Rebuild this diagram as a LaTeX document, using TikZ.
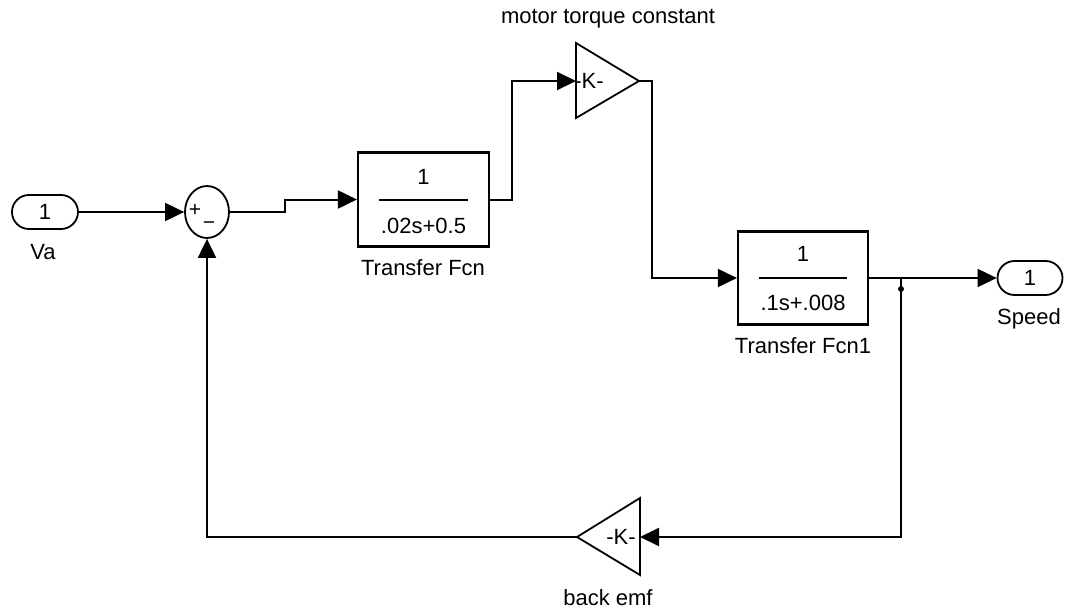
\documentclass[tikz,border=0pt]{standalone}
\usepackage{fontspec}
\setmainfont{Liberation Sans}
\usetikzlibrary{arrows.meta,shapes.geometric,shapes.misc,calc}
\begin{document}
\begin{tikzpicture}[x=1pt,y=-1pt,
  wire/.style={line width=2pt},
  arr/.style={wire,-{Triangle[length=19pt,width=18pt]}},
  blk/.style={draw,line width=2.2pt,rectangle,inner sep=0,minimum width=131pt,minimum height=94pt},
  port/.style={draw,line width=1.8pt,rounded rectangle,inner sep=0,minimum width=66pt,minimum height=34pt,font=\fontsize{22}{26}\selectfont},
  sumblk/.style={draw,line width=1.8pt,ellipse,inner sep=0,minimum width=44pt,minimum height=52pt},
  gainblk/.style={draw,line width=1.8pt,line join=miter},
  lbl/.style={font=\fontsize{22}{26}\selectfont,inner sep=0},
  sgn/.style={font=\fontsize{21}{22}\selectfont,inner sep=0},
  ]
\useasboundingbox (0,0) rectangle (1067,610);

% blocks
\node[port] (va) at (45,212) {1};
\node[lbl] (valbl) at (43,252) {Va};
\node[sumblk] (sum) at (207,212) {};
\node[sgn] (plus) at (195,210) {+};
\node[sgn] (minus) at (209,226) {−};

\node[blk] (tf1) at (423.5,199.5) {};
\draw[line width=2pt] ($(tf1)+(-44.5,0)$) -- ($(tf1)+(44.5,0)$);
\node[lbl] (tf1n) at ($(tf1)+(0,-23)$) {1};
\node[lbl] (tf1d) at ($(tf1)+(0,26)$) {.02s+0.5};
\node[lbl] (tf1lbl) at (423,268) {Transfer Fcn};

\draw[gainblk] (576,43) -- (639,81) -- (576,118) -- cycle;
\coordinate (g1in) at (576,81);
\coordinate (g1out) at (639,81);
\node[lbl] (g1k) at (589,81) {-K-};
\node[lbl] (g1lbl) at (608,19) {motor torque constant};

\node[blk,minimum width=130pt,minimum height=93pt] (tf2) at (803,278) {};
\draw[line width=2pt] ($(tf2)+(-44,0)$) -- ($(tf2)+(44,0)$);
\node[lbl] (tf2n) at ($(tf2)+(0,-24)$) {1};
\node[lbl] (tf2d) at ($(tf2)+(0,25)$) {.1s+.008};
\node[lbl] (tf2lbl) at (803,346) {Transfer Fcn1};

\node[port,minimum width=65pt] (speed) at (1030,278) {1};
\node[lbl] (speedlbl) at (1029,319) {Speed};

\draw[gainblk] (640,498) -- (577,537) -- (640,575) -- cycle;
\coordinate (g2in) at (640,537);
\coordinate (g2out) at (577,537);
\node[lbl] (g2k) at (621,537) {-K-};
\node[lbl] (g2lbl) at (608,598) {back emf};

\coordinate (br) at (901,278);
\fill (901,289) circle (3pt);

% wires
\draw[arr] (va.east) -- (sum.west);
\draw[arr] (sum.east) -- ++(55,0) |- (tf1.west);
\draw[arr] (tf1.east) -- ++(22,0) |- (g1in);
\draw[arr] (g1out) -- ++(13,0) |- (tf2.west);
\draw[arr] (tf2.east) -- (speed.west);
\draw[arr] (br) |- (g2in);
\draw[arr] (g2out) -| (sum.south);
\end{tikzpicture}
\end{document}
